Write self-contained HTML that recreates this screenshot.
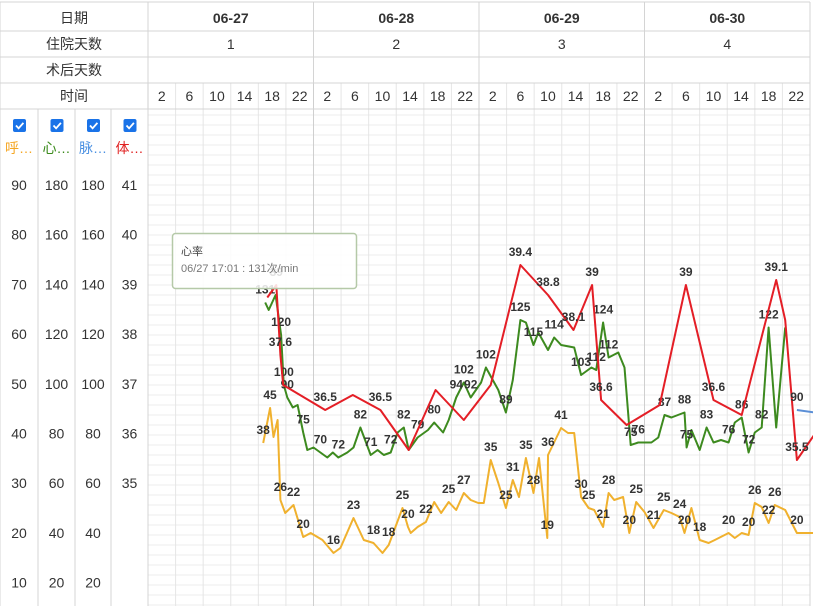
<!DOCTYPE html>
<html><head><meta charset="utf-8"><style>
body{margin:0;background:#fff;}
svg{display:block;font-family:"Liberation Sans","Noto Sans CJK SC",sans-serif;}
</style></head><body>
<svg id="chart" width="813" height="611" viewBox="0 0 813 611"></svg>
<script>
const days=["06-27","06-28","06-29","06-30"];
const stayDays=["1","2","3","4"];
const hourTicks=["2","6","10","14","18","22"];
const yTicksBreath=["90","80","70","60","50","40","30","20","10"];
const yTicksHeart=["180","160","140","120","100","80","60","40","20"];
const yTicksPulse=["180","160","140","120","100","80","60","40","20"];
const yTicksTemp=["41","40","39","38","37","36","35","",""];

const tempTimes=[17.3,18.6,19.2,19.6,25.7,29.7,33.7,37.8,41.7,45.8,49.7,54.0,58.0,61.7,64.4,65.7,69.4,74.2,78.0,82.0,86.1,91.1,92.4,94.1,96.6];
const tempValues=[38.75,39.0,37.6,37.0,36.5,36.8,36.5,35.7,36.9,36.3,37.0,39.4,38.8,38.1,39.0,36.7,36.2,36.6,39.0,36.7,36.4,39.1,38.3,35.5,36.0];
const tempLabels=["","39","37.6","","36.5","","36.5","","","","","39.4","38.8","38.1","39","36.6","","","39","36.6","","39.1","","35.5",""];

const hrTimes=[17.0,17.5,18.5,19.3,19.7,20.2,21.0,21.7,22.5,23.1,24.0,25.0,26.0,26.8,27.6,28.9,29.8,30.8,32.3,33.3,34.2,35.2,36.2,37.1,37.8,39.1,40.6,41.5,42.8,43.6,44.7,45.8,46.8,48.3,49.0,50.8,51.9,52.9,54.0,54.8,55.9,56.6,58.0,58.9,59.9,61.8,62.8,64.3,65.0,66.0,66.8,68.2,69.1,70.0,71.1,73.0,74.0,74.9,75.9,77.8,78.1,78.8,80.0,81.0,82.0,83.1,84.2,85.1,86.1,87.1,88.0,89.0,90.0,91.1,92.4];
const hrValues=[133,130,136,120,100,95,91,92,81,74,75,73,71,73,71,73,75,83,72,74,72,73,81,83,74,79,82,85,81,86,95,101,95,101,107,98,89,102,126,125,116,121,114,119,116,115,104,107,106,125,111,113,107,76,77,77,79,88,87,89,75,82,74,83,77,78,77,85,87,73,81,83,123,83,123];
const hrLabels=["131","","","120","100","90","","","75","","","70","","","72","","","82","71","","","72","","82","","79","","80","","","94","102","92","","102","","89","","125","","115","","","114","","","103","","112","124","112","","","75","76","","","87","","88","75","","","83","","","76","","86","72","","82","122","",""];

const pulseTimes=[94.1,96.7];
const pulseValues=[90,89];
const pulseLabels=["90",""];

const brTimes=[16.7,17.7,18.2,18.8,19.2,19.9,21.1,22.5,23.6,25.3,26.9,27.9,29.8,31.3,32.7,34.0,34.9,36.9,37.7,38.1,39.1,40.3,41.5,42.5,43.6,44.7,45.8,46.8,47.9,48.7,49.7,50.8,51.9,52.9,53.8,54.8,55.9,56.7,57.9,58.0,59.9,60.9,61.8,62.8,63.9,64.7,66.0,66.8,67.6,68.9,69.8,70.8,72.0,73.3,74.8,75.9,77.1,77.8,78.8,80.0,81.3,82.2,84.2,85.1,86.1,87.1,88.0,89.0,90.0,90.9,92.4,94.1,96.6];
const brValues=[38.4,45.4,39.6,43,27,24.4,26,19.6,20.4,19,16.4,17.4,23.4,19,18.4,16.4,18,25.4,21.6,20.4,21.6,22.6,26.6,24.4,26.6,25,28.4,27,26.4,26.4,35,30.4,25.4,31,27.6,35.4,28.4,35.4,19.4,36,41.4,40.4,40.4,27.6,25.4,25,21.6,28.4,27,27.6,20.4,26.6,24.6,21.4,25,24.4,23.6,20.4,25.4,19,18.4,19,20.4,19.4,20.4,20,26.4,25.6,22.4,26,25,20.4,20.4];
const brLabels=["38","45","","","26","","22","20","","","16","","23","","18","","18","25","20","","","22","","","25","","27","","","","35","","25","31","","35","28","","19","36","41","","","30","25","","21","28","","","20","25","","21","25","","24","20","","18","","","20","","","20","26","","22","26","","20",""];

const NS="http://www.w3.org/2000/svg";
const svg=document.getElementById('chart');
const X0=148, DAYW=165.5, X1=810, Y0=109, Y1=606;
function xScale(h){return X0+h*DAYW/24;}
function yTemp(t){return 185+(41-t)*50;}
function yHeart(v){return 185+(180-v)*2.5;}
function yBreath(v){return 185+(90-v)*5;}
function mk(tag,attrs,parent){const e=document.createElementNS(NS,tag);for(const k in attrs)e.setAttribute(k,attrs[k]);(parent||svg).appendChild(e);return e;}

// grid
const grid=mk('g',{});


for(let y=Y0+6;y<Y1;y+=10){mk('line',{x1:X0,x2:X1,y1:y,y2:y,stroke:'#ececec','stroke-width':1},grid);}
for(let i=0;i<=24;i++){const x=X0+i*DAYW/6;mk('line',{x1:x,x2:x,y1:83,y2:Y1,stroke:i%6==0?'#cfcfcf':'#e6e6e6','stroke-width':1},grid);}
// header lines
const hdr=mk('g',{});


[2,31,57,83,109].forEach(y=>mk('line',{x1:0,x2:X1,y1:y,y2:y,stroke:'#d4d4d4'},hdr));
mk('line',{x1:0,x2:0,y1:2,y2:Y1,stroke:'#d4d4d4'},hdr);
mk('line',{x1:X1,x2:X1,y1:2,y2:Y1,stroke:'#d4d4d4'},hdr);
days.forEach((d,i)=>{const x=X0+i*DAYW;mk('line',{x1:x,x2:x,y1:2,y2:83,stroke:'#d4d4d4'},hdr);
 const t=mk('text',{x:x+DAYW/2,y:23,'text-anchor':'middle','font-size':14,'font-weight':'bold',fill:'#333'},hdr);t.textContent=d;
 
 
 const s=mk('text',{x:x+DAYW/2,y:49,'text-anchor':'middle','font-size':14,fill:'#333'},hdr);s.textContent=stayDays[i];
 hourTicks.forEach((h,j)=>{const ht=mk('text',{x:x+DAYW/6*(j+0.5),y:101,'text-anchor':'middle','font-size':14,fill:'#333'},hdr);ht.textContent=h;});
});
[["日期",23],["住院天数",49],["术后天数",75],["时间",101]].forEach(r=>{const t=mk('text',{x:74,y:r[1],'text-anchor':'middle','font-size':14,fill:'#333'},hdr);t.textContent=r[0];});
// left axis columns
const cols=[[0,38,'呼…','#f5a623',yTicksBreath],[38,75,'心…','#3a8a1a',yTicksHeart],[75,111,'脉…','#4a90e2',yTicksPulse],[111,148,'体…','#e02020',yTicksTemp]];
cols.forEach((c,i)=>{const g=mk('g',{});
 
 
 mk('line',{x1:c[1],x2:c[1],y1:109,y2:Y1,stroke:'#d4d4d4'},g);
 const cx=(c[0]+c[1])/2;
 const cb=mk('g',{},g);
 
 
 mk('rect',{x:cx-6,y:119,width:13,height:13,rx:2,fill:'#1a73e8'},cb);
 mk('path',{d:`M${cx-3} ${125.5} l2.6 2.8 l4.8 -5.4`,stroke:'#fff','stroke-width':1.8,fill:'none'},cb);
 const lt=mk('text',{x:cx,y:153,'text-anchor':'middle','font-size':14,fill:c[3]},g);lt.textContent=c[2];
 c[4].forEach((v,k)=>{const t=mk('text',{x:cx,y:190+k*49.7,'text-anchor':'middle','font-size':14,fill:'#333'},g);t.textContent=v;});
});

function series(name,times,vals,labels,yf,color){
 const g=mk('g',{});
 
 
 const pts=times.map((t,i)=>xScale(t).toFixed(1)+','+yf(vals[i]).toFixed(1)).join(' ');
 const pl=mk('polyline',{points:pts,fill:'none',stroke:color,'stroke-width':2,'stroke-linejoin':'round'},g);
 
 
 return g;
}
function labelsFor(g,times,vals,labels,yf){
 times.forEach((t,i)=>{if(!labels[i])return;const tx=mk('text',{x:xScale(t),y:yf(vals[i])-9,'text-anchor':'middle','font-size':12,'font-weight':'bold',fill:'#333'},g);tx.textContent=labels[i];});
}
const gb=series('breath-series',brTimes,brValues,brLabels,yBreath,'#f0b12e');
const gh=series('heart-rate-series',hrTimes,hrValues,hrLabels,yHeart,'#3d8a1f');
const gt=series('temperature-series',tempTimes,tempValues,tempLabels,yTemp,'#e41e26');
const gp=series('pulse-series',pulseTimes,pulseValues,pulseLabels,yHeart,'#5b8fd6');
labelsFor(gb,brTimes,brValues,brLabels,yBreath);
labelsFor(gh,hrTimes,hrValues,hrLabels,yHeart);
labelsFor(gt,tempTimes,tempValues,tempLabels,yTemp);
labelsFor(gp,pulseTimes,pulseValues,pulseLabels,yHeart);

// tooltip
const tip=mk('g',{});


mk('rect',{x:172.5,y:233.5,width:184,height:55,rx:3,fill:'rgba(255,255,255,0.85)',stroke:'#b5c9a8','stroke-width':1.5},tip);
const t1=mk('text',{x:181,y:255,'font-size':11,fill:'#444'},tip);t1.textContent='心率';
const t2=mk('text',{x:181,y:272,'font-size':11,fill:'#777'},tip);t2.textContent='06/27 17:01 : 131次/min';
</script>
</body></html>
